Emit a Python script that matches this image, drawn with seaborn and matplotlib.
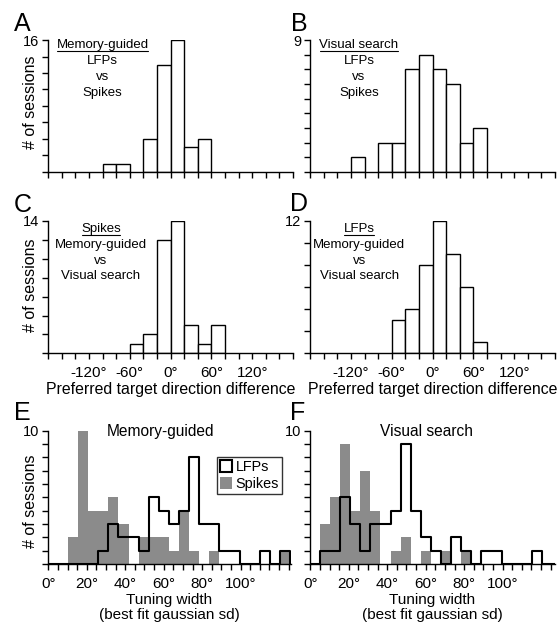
import numpy as np
import matplotlib
matplotlib.use("Agg")
import matplotlib.pyplot as plt
import seaborn as sns
from matplotlib.patches import Patch
from matplotlib.lines import Line2D

# ---- preferred target direction differences: 20 deg bins, -180..180 ----
dir_bin_edges = list(range(-180, 181, 20))
memory_lfp_vs_spikes = [0, 0, 0, 0, 1, 1, 0, 4, 13, 16, 3, 4, 0, 0, 0, 0, 0, 0]
visual_lfp_vs_spikes = [0, 0, 0, 1, 0, 2, 2, 7, 8, 7, 6, 2, 3, 0, 0, 0, 0, 0]
spikes_memory_vs_visual = [0, 0, 0, 0, 0, 0, 1, 2, 12, 14, 3, 1, 3, 0, 0, 0, 0, 0]
lfps_memory_vs_visual = [0, 0, 0, 0, 0, 0, 3, 4, 8, 12, 9, 6, 1, 0, 0, 0, 0, 0]
dir_tick_values = [-120, -60, 0, 60, 120]
dir_tick_labels = ["-120°", "-60°", "0°", "60°", "120°"]

# ---- tuning width (best fit gaussian sd): 23 bins of 5.25 deg from 5 deg ----
width_bin_start = 5.0
width_bin_size = 5.25
memory_spikes_width = [0, 2, 10, 4, 4, 5, 3, 0, 2, 2, 2, 1, 4, 1, 0, 1, 0, 0, 0, 0, 0, 0, 1]
memory_lfps_width = [0, 0, 0, 0, 1, 3, 2, 2, 1, 5, 4, 3, 4, 8, 3, 3, 1, 1, 0, 0, 1, 0, 1]
visual_spikes_width = [3, 5, 9, 4, 7, 4, 0, 1, 2, 0, 1, 0, 1, 0, 1, 0, 0, 0, 0, 0, 0, 0, 0]
visual_lfps_width = [1, 1, 5, 3, 1, 3, 3, 4, 9, 4, 2, 1, 0, 2, 1, 0, 1, 1, 0, 0, 0, 1, 0]
width_tick_values = [0, 20, 40, 60, 80, 100]
width_tick_labels = ["0°", "20°", "40°", "60°", "80°", "100°"]

SPIKE_GRAY = "#8b8b8b"

sns.set_style("ticks")
plt.rcParams["font.family"] = ["Liberation Sans", "DejaVu Sans"]
plt.rcParams.update({
    "axes.linewidth": 1.0,
    "xtick.major.width": 1.0,
    "ytick.major.width": 1.0,
    "axes.edgecolor": "black",
    "xtick.color": "black",
    "ytick.color": "black",
    "text.color": "black",
    "axes.labelcolor": "black",
})

W, H = 557, 623
fig = plt.figure(figsize=(W / 100, H / 100), dpi=100)
fig.patch.set_facecolor("white")


def px_axes(left, top, right, bottom):
    return fig.add_axes([left / W, 1 - bottom / H, (right - left) / W, (bottom - top) / H])


def style_axes(ax, ymax, ystep, xmin, xmax, xstep, xtick_values, xtick_labels):
    sns.despine(ax=ax)
    ax.set_xlim(xmin, xmax)
    ax.set_ylim(0, ymax)
    yt = np.arange(0, ymax + 1e-9, ystep)
    ax.set_yticks(yt)
    ax.set_yticklabels([str(int(ymax)) if abs(v - ymax) < 1e-9 else "" for v in yt])
    xt = np.arange(xmin, xmax + 1e-9, xstep)
    ax.set_xticks(xt)
    if xtick_labels is None:
        ax.set_xticklabels([""] * len(xt))
    else:
        lab = dict(zip(xtick_values, xtick_labels))
        ax.set_xticklabels([lab.get(int(round(v)), "") if abs(v - round(v)) < 1e-9 else "" for v in xt])
    ax.tick_params(axis="both", direction="out", length=4, width=1.0)
    ax.tick_params(axis="x", labelsize=11, pad=5.5)
    ax.tick_params(axis="y", labelsize=10.5, pad=2.5)
    ax.set_xlabel("")
    ax.set_ylabel("")
    ax.set_facecolor("none")


def direction_hist(ax, counts):
    centers = [e + 10 for e in dir_bin_edges[:-1]]
    sns.histplot(x=centers, weights=counts, bins=dir_bin_edges, ax=ax,
                 element="bars", fill=True, color="white", edgecolor="black",
                 linewidth=1.0, alpha=1.0)
    for p in ax.patches:
        if p.get_height() == 0:
            p.set_visible(False)


def width_hist(ax, spikes, lfps):
    n = len(spikes)
    edges = [width_bin_start + width_bin_size * k for k in range(n + 1)]
    centers = [e + width_bin_size / 2 for e in edges[:-1]]
    sns.histplot(x=centers, weights=spikes, bins=edges, ax=ax,
                 element="bars", fill=True, color=SPIKE_GRAY, edgecolor=SPIKE_GRAY,
                 linewidth=0, alpha=1.0)
    for p in ax.patches:
        if p.get_height() == 0:
            p.set_visible(False)
    # LFP outline; empty bins on both sides so the outline drops to the baseline
    edges_pad = [edges[0] - width_bin_size] + edges + [edges[-1] + width_bin_size]
    centers_pad = [e + width_bin_size / 2 for e in edges_pad[:-1]]
    lfps_pad = [0] + list(lfps) + [0]
    sns.histplot(x=centers_pad, weights=lfps_pad, bins=edges_pad, ax=ax,
                 element="step", fill=False, color="black", linewidth=1.5)


def stacked_label(ax, x, ys, lines):
    texts = []
    for y, s in zip(ys, lines):
        t = ax.text(x, y, s, transform=ax.transAxes, ha="center", va="baseline",
                    fontsize=9.5)
        texts.append(t)
    return texts


underlined = []

# ---- A ----
axA = px_axes(48.3, 40, 293, 172)
direction_hist(axA, memory_lfp_vs_spikes)
style_axes(axA, 16, 2, -180, 180, 20, dir_tick_values, None)
tA = stacked_label(axA, 0.2215, [0.937, 0.816, 0.695, 0.574],
                   ["Memory-guided", "LFPs", "vs", "Spikes"])
underlined.append(tA[0])

# ---- B ----
axB = px_axes(310.3, 40, 555, 172)
direction_hist(axB, visual_lfp_vs_spikes)
style_axes(axB, 9, 1, -180, 180, 20, dir_tick_values, None)
tB = stacked_label(axB, 0.199, [0.937, 0.816, 0.695, 0.574],
                   ["Visual search", "LFPs", "vs", "Spikes"])
underlined.append(tB[0])

# ---- C ----
axC = px_axes(48.3, 221, 293, 353.3)
direction_hist(axC, spikes_memory_vs_visual)
style_axes(axC, 14, 2, -180, 180, 20, dir_tick_values, dir_tick_labels)
tC = stacked_label(axC, 0.215, [0.917, 0.797, 0.678, 0.558],
                   ["Spikes", "Memory-guided", "vs", "Visual search"])
underlined.append(tC[0])
axC.set_xlabel("Preferred target direction difference", fontsize=11.4, labelpad=1)

# ---- D ----
axD = px_axes(310.3, 221, 555, 353.3)
direction_hist(axD, lfps_memory_vs_visual)
style_axes(axD, 12, 2, -180, 180, 20, dir_tick_values, dir_tick_labels)
tD = stacked_label(axD, 0.2, [0.917, 0.797, 0.678, 0.558],
                   ["LFPs", "Memory-guided", "vs", "Visual search"])
underlined.append(tD[0])
axD.set_xlabel("Preferred target direction difference", fontsize=11.4, labelpad=1)

# ---- E ----
axE = px_axes(48.3, 430.7, 290.6, 564)
width_hist(axE, memory_spikes_width, memory_lfps_width)
style_axes(axE, 10, 1, 0, 126, 5, width_tick_values, width_tick_labels)
axE.text(0.464, 0.96, "Memory-guided", transform=axE.transAxes, ha="center",
         va="baseline", fontsize=11.2)
axE.set_xlabel("Tuning width\n(best fit gaussian sd)", fontsize=11, labelpad=1,
               linespacing=1.1)
handles = [Patch(facecolor="white", edgecolor="black", linewidth=1.5),
           Patch(facecolor=SPIKE_GRAY, edgecolor=SPIKE_GRAY, linewidth=0)]
leg = axE.legend(handles, ["LFPs", "Spikes"], loc="upper left",
                 bbox_to_anchor=(0.696, 0.805), frameon=True, fancybox=False,
                 edgecolor="black", fontsize=10.4, handlelength=0.85,
                 handleheight=0.9, handletextpad=0.25, labelspacing=0.25,
                 borderpad=0.2, borderaxespad=0)
leg.get_frame().set_linewidth(1.0)

# ---- F ----
axF = px_axes(310.3, 430.7, 554.5, 564)
width_hist(axF, visual_spikes_width, visual_lfps_width)
style_axes(axF, 10, 1, 0, 127, 5, width_tick_values, width_tick_labels)
axF.text(0.475, 0.96, "Visual search", transform=axF.transAxes, ha="center",
         va="baseline", fontsize=11.2)
axF.set_xlabel("Tuning width\n(best fit gaussian sd)", fontsize=11, labelpad=1,
               linespacing=1.1)

# ---- y labels on the left column ----
for ax, yc in [(axA, 0.53), (axC, 0.515), (axE, 0.467)]:
    ax.set_ylabel("# of sessions", fontsize=11.5)
    ax.yaxis.set_label_coords(-0.041, yc)

# ---- panel letters ----
for letter, x, y in [("A", 14, 31), ("B", 291, 31), ("C", 14, 212),
                     ("D", 290, 211), ("E", 14, 420), ("F", 290, 420)]:
    fig.text(x / W, 1 - y / H, letter, fontsize=18, ha="left", va="baseline")

# ---- underlines for the heading of each label block ----
fig.canvas.draw()
renderer = fig.canvas.get_renderer()
inv = fig.transFigure.inverted()
for t in underlined:
    bb = t.get_window_extent(renderer)
    base = t.get_transform().transform(t.get_position())[1]
    y = base - 2.6
    (x0, y0), (x1, y1) = inv.transform([(bb.x0 + 0.5, y), (bb.x1 - 0.5, y)])
    fig.add_artist(Line2D([x0, x1], [y0, y1], transform=fig.transFigure,
                          color="black", linewidth=0.8))

fig.savefig("out.png", dpi=100, facecolor="white")
